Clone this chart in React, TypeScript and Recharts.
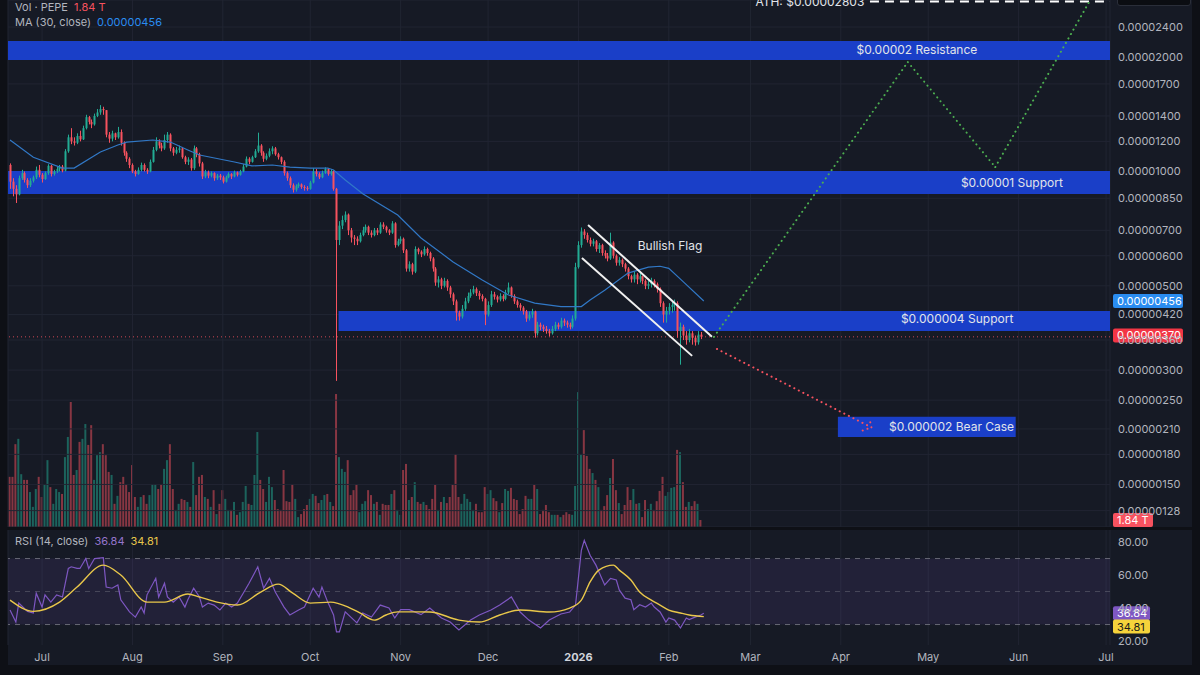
import {
  ComposedChart,
  Bar,
  Line,
  XAxis,
  YAxis,
  CartesianGrid,
  ReferenceArea,
  ReferenceLine,
  ReferenceDot,
} from 'recharts'

// ---- time axis ----
const START_DATE = '2025-06-20'
const monthDates = [
  '2025-07-01', '2025-08-01', '2025-09-01', '2025-10-01', '2025-11-01', '2025-12-01',
  '2026-01-01', '2026-02-01', '2026-03-01', '2026-04-01', '2026-05-01', '2026-06-01', '2026-07-01',
]
const monthLabels = ['Jul', 'Aug', 'Sep', 'Oct', 'Nov', 'Dec', '2026', 'Feb', 'Mar', 'Apr', 'May', 'Jun', 'Jul']

// ---- daily candles, prices in units of 0.00000001 ----
const firstOpen = 1040
const closes = [
  940, 900, 870, 960, 990, 950, 920, 945, 965, 1010,
  980, 955, 990, 1035, 985, 1000, 1015, 1030, 1005, 1130,
  1230, 1200, 1190, 1240, 1215, 1300, 1390, 1350, 1330, 1400,
  1430, 1460, 1450, 1250, 1220, 1260, 1230, 1270, 1190, 1120,
  1080, 1040, 1000, 985, 1010, 1040, 1010, 1000, 1060, 1140,
  1200, 1170, 1150, 1210, 1250, 1150, 1120, 1140, 1150, 1090,
  1060, 1075, 1020, 1150, 1110, 1050, 970, 995, 975, 990,
  960, 975, 965, 940, 965, 985, 970, 995, 980, 1000,
  1030, 1080, 1060, 1090, 1130, 1170, 1120, 1080, 1100, 1130,
  1150, 1110, 1090, 1060, 990, 960, 920, 895, 915, 925,
  910, 905, 900, 935, 1000, 985, 965, 990, 1015, 985,
  1000, 900, 660, 720, 745, 770, 700, 670, 665, 655,
  680, 700, 715, 690, 680, 700, 690, 725, 715, 700,
  690, 730, 640, 655, 665, 620, 555, 570, 545, 625,
  615, 605, 625, 610, 590, 555, 510, 520, 500, 515,
  495, 475, 455, 425, 415, 435, 455, 470, 480, 490,
  478, 470, 462, 420, 445, 475, 468, 460, 470, 462,
  480, 495, 470, 455, 445, 438, 428, 410, 420, 428,
  375, 395, 390, 385, 380, 375, 385, 395, 390, 405,
  400, 395, 390, 410, 560, 640, 695, 680, 660, 645,
  655, 625, 640, 610, 600, 590, 650, 600, 575, 585,
  570, 555, 530, 520, 535, 520, 530, 515, 500, 505,
  515, 505, 490, 450, 420, 430, 440, 445, 450, 380,
  390, 370, 360, 375, 365, 355, 372, 367,
]
const highs = [
  1050, 960, 920, 975, 1010, 1000, 960, 960, 975, 1030,
  1040, 990, 1000, 1045, 1040, 1010, 1030, 1040, 1040, 1145,
  1250, 1300, 1230, 1260, 1280, 1320, 1410, 1400, 1370, 1420,
  1460, 1495, 1480, 1450, 1270, 1280, 1265, 1310, 1290, 1200,
  1130, 1090, 1050, 1010, 1025, 1055, 1050, 1020, 1075, 1160,
  1230, 1215, 1190, 1250, 1270, 1260, 1160, 1160, 1170, 1160,
  1100, 1090, 1085, 1170, 1160, 1120, 1060, 1010, 1005, 1000,
  995, 985, 985, 975, 975, 995, 990, 1005, 1000, 1010,
  1045, 1095, 1090, 1100, 1145, 1265, 1180, 1130, 1115, 1150,
  1165, 1160, 1120, 1095, 1070, 1000, 970, 930, 925, 935,
  930, 920, 915, 945, 1020, 1015, 995, 1005, 1025, 1020,
  1015, 1005, 905, 740, 765, 785, 775, 710, 680, 675,
  690, 715, 725, 720, 700, 710, 710, 735, 735, 720,
  705, 740, 735, 665, 675, 670, 625, 580, 575, 635,
  630, 620, 635, 630, 615, 595, 560, 530, 525, 525,
  520, 500, 480, 460, 430, 445, 465, 480, 490, 500,
  495, 485, 475, 465, 455, 485, 482, 472, 478, 475,
  488, 510, 498, 475, 460, 450, 442, 432, 428, 435,
  430, 402, 400, 395, 392, 385, 392, 402, 400, 412,
  410, 405, 400, 418, 575, 655, 712, 705, 690, 670,
  665, 660, 648, 645, 620, 610, 690, 655, 605, 595,
  590, 575, 560, 535, 545, 540, 540, 532, 520, 515,
  525, 520, 510, 495, 455, 440, 450, 455, 460, 455,
  400, 395, 380, 385, 380, 370, 380, 378,
]
const lows = [
  900, 860, 826, 865, 950, 935, 905, 910, 935, 955,
  965, 935, 950, 980, 970, 975, 990, 1000, 995, 1000,
  1120, 1180, 1170, 1180, 1200, 1210, 1290, 1330, 1300, 1320,
  1390, 1410, 1410, 1230, 1190, 1200, 1210, 1220, 1170, 1100,
  1060, 1020, 990, 970, 980, 1000, 1000, 985, 995, 1055,
  1130, 1150, 1130, 1140, 1190, 1130, 1100, 1110, 1120, 1080,
  1045, 1040, 1005, 1010, 1090, 1030, 955, 960, 960, 965,
  945, 950, 950, 930, 935, 960, 955, 965, 970, 975,
  995, 1025, 1045, 1055, 1085, 1120, 1100, 1060, 1070, 1090,
  1110, 1100, 1075, 1045, 975, 945, 905, 880, 885, 905,
  900, 890, 890, 895, 930, 970, 955, 960, 985, 975,
  975, 890, 281, 640, 705, 735, 680, 650, 640, 640,
  650, 675, 690, 680, 670, 675, 680, 685, 705, 690,
  680, 685, 630, 635, 645, 610, 545, 545, 535, 540,
  605, 595, 600, 600, 580, 545, 500, 495, 490, 495,
  485, 465, 445, 405, 405, 410, 430, 450, 465, 475,
  470, 460, 455, 394, 415, 440, 460, 452, 455, 455,
  458, 475, 465, 448, 438, 430, 420, 402, 405, 412,
  365, 370, 382, 378, 374, 368, 372, 380, 384, 386,
  392, 388, 384, 386, 405, 555, 630, 665, 650, 635,
  635, 615, 610, 600, 590, 580, 585, 590, 565, 565,
  560, 545, 520, 510, 510, 505, 510, 505, 490, 490,
  495, 495, 480, 440, 400, 400, 420, 425, 430, 365,
  310, 360, 350, 355, 350, 348, 350, 362,
]
// volume in T
const volumes = [
  13.2, 13.2, 21.8, 23.2, 13.9, 12.4, 12.4, 9.2, 5.3, 10.0,
  13.2, 7.9, 11.1, 17.6, 10.5, 6.1, 10.0, 9.2, 8.7, 18.4,
  23.7, 32.9, 13.7, 15.0, 22.4, 23.2, 27.1, 21.6, 26.8, 12.4,
  18.9, 19.7, 21.8, 18.9, 14.5, 13.7, 6.1, 8.2, 11.8, 13.2,
  11.3, 9.2, 16.3, 7.9, 5.3, 7.9, 8.4, 6.1, 8.4, 11.3,
  11.3, 10.0, 11.3, 15.3, 17.6, 21.8, 10.0, 4.5, 6.1, 7.4,
  7.1, 6.6, 5.3, 17.1, 8.4, 13.2, 13.7, 7.9, 7.4, 5.3,
  9.7, 3.4, 6.1, 9.7, 7.4, 4.5, 4.5, 6.6, 3.2, 3.9,
  6.6, 10.8, 6.1, 5.8, 13.7, 25.0, 12.4, 10.0, 6.6, 13.2,
  10.5, 7.1, 4.7, 4.5, 15.0, 6.8, 6.6, 11.3, 7.4, 2.6,
  3.4, 4.7, 5.8, 7.4, 8.7, 8.2, 6.3, 7.1, 8.4, 8.7,
  6.6, 5.5, 35.0, 18.4, 15.3, 14.5, 17.6, 8.4, 9.7, 11.3,
  3.9, 6.1, 6.8, 9.7, 8.4, 6.1, 6.6, 3.2, 6.1, 5.8,
  5.8, 8.7, 9.7, 4.5, 3.2, 15.0, 16.6, 7.1, 7.9, 11.8,
  6.6, 6.1, 6.6, 5.8, 4.7, 7.4, 11.1, 4.5, 6.6, 7.9,
  6.3, 7.9, 11.1, 19.2, 7.9, 6.1, 8.7, 7.4, 6.6, 4.5,
  6.1, 3.9, 3.9, 10.5, 8.7, 9.7, 7.6, 6.8, 3.9, 6.3,
  10.0, 9.5, 10.3, 7.4, 7.1, 3.4, 4.7, 8.2, 7.4, 7.4,
  11.1, 10.0, 3.4, 4.5, 5.8, 3.9, 3.2, 3.2, 3.2, 2.6,
  3.2, 3.9, 3.4, 3.2, 10.8, 35.5, 19.2, 25.5, 18.7, 15.3,
  14.2, 12.4, 10.5, 4.5, 5.5, 8.4, 12.9, 17.9, 9.7, 6.3,
  3.4, 5.8, 10.5, 7.1, 10.0, 6.1, 6.3, 2.6, 7.1, 4.7,
  6.1, 4.5, 6.8, 9.5, 13.2, 8.2, 9.2, 10.3, 10.5, 20.3,
  19.7, 11.8, 5.3, 6.6, 5.5, 6.8, 6.1, 1.84,
]

// MA(30) readings: [day, price in 0.00000001]
const maLine: [number, number][] = [
  [0, 1210], [8, 1090], [18, 1021], [22, 1021], [31, 1125], [37, 1174], [40, 1195],
  [49, 1210], [55, 1195], [61, 1139], [65, 1105], [77, 1059], [83, 1034], [90, 1040],
  [96, 1027], [103, 1021], [109, 1021], [111, 1009], [115, 950], [121, 874], [133, 768],
  [141, 668], [152, 578], [162, 518], [171, 473], [180, 450], [189, 441], [196, 441],
  [199, 459], [204, 487], [212, 540], [219, 560], [223, 563], [226, 556], [231, 512], [238, 456],
]

// RSI(14) and its MA: [day, value]
const rsiLine: [number, number][] = [
  [0, 38.8], [2, 31.5], [3, 43], [6, 38], [8, 37], [9, 49], [11, 40.6], [12, 48], [14, 43.6],
  [16, 48], [18, 46.7], [20, 64], [21, 65], [23, 64], [24, 64], [26, 70], [27, 64], [29, 70],
  [32, 70.5], [33, 52.7], [35, 52], [37, 54], [38, 45], [41, 37.7], [43, 34.5], [45, 40.6],
  [46, 37], [47, 48], [50, 58], [51, 46.7], [53, 55], [54, 46.7], [56, 43.6], [58, 46.7],
  [60, 40.6], [61, 45], [63, 52], [65, 46.7], [66, 40.6], [68, 43], [70, 41.8], [72, 38.8],
  [74, 43], [76, 40.6], [78, 43], [80, 49], [82, 55], [85, 65], [87, 52], [89, 58], [91, 49.7],
  [94, 40.6], [96, 35.8], [99, 38.8], [101, 40.6], [104, 52], [106, 46.7], [107, 52.7],
  [109, 43.6], [111, 35.8], [112, 25.5], [113, 25.5], [115, 37.7], [118, 32.7], [119, 31],
  [121, 37], [124, 34.5], [127, 41.8], [130, 40], [132, 34], [134, 39], [137, 39], [141, 36],
  [144, 40], [148, 34], [151, 31.5], [154, 26.7], [158, 32.7], [161, 35.8], [165, 38.8],
  [168, 41.8], [172, 46.7], [175, 37.6], [178, 32.7], [182, 27.9], [185, 32.7], [189, 36.4],
  [192, 37.6], [194, 41.8], [196, 75], [197, 81], [199, 72], [201, 66], [202, 62], [204, 54],
  [206, 58], [208, 57], [209, 51], [211, 46], [213, 45], [214, 39], [216, 42], [218, 40.6],
  [220, 43], [221, 40.6], [223, 37.6], [225, 31.5], [226, 34], [228, 32.7], [230, 27.9],
  [232, 34], [233, 33], [235, 34.5], [237, 35.8], [238, 36.84],
]
const rsiMaLine: [number, number][] = [
  [0, 44.8], [8, 38], [17, 43.6], [23, 52.7], [32, 66], [38, 60], [47, 43.6], [53, 43.6],
  [61, 48.5], [65, 46.7], [71, 43.6], [78, 41.8], [86, 49.7], [92, 54.5], [97, 49], [103, 43],
  [110, 43.6], [116, 40.6], [120, 37], [125, 32.7], [129, 35.8], [133, 37.7], [144, 37.6],
  [154, 32.7], [161, 31.5], [168, 35.8], [175, 38.8], [185, 37.6], [192, 40], [196, 44.8],
  [199, 55.8], [202, 63], [207, 66], [209, 63], [213, 57], [216, 49.7], [220, 44.8],
  [223, 41.8], [226, 38.8], [230, 37], [233, 35.8], [238, 34.81],
]

// axis ticks
const priceTicks = [2400, 2000, 1700, 1400, 1200, 1000, 850, 700, 600, 500, 420, 360, 300, 250, 210, 180, 150, 128]
const rsiTicks = [20, 40, 60, 80]

// drawn levels and annotations (days, prices in 0.00000001)
const resistanceZone = [1965, 2205]
const supportZoneHigh = [872, 1003]
const supportZoneLow = [380, 429]
const supportLowFrom = 112.7
const bearZone = { days: [284, 345], prices: [200, 226] }
const athPrice = 2803
const athFrom = 295
const lastPrice = 367
const lastMa = 456
const bullPath: [number, number][] = [[241.5, 367], [308, 1941], [338, 1027], [370.5, 2820]]
const bearPath: [number, number][] = [[242.5, 341], [295.5, 212]]
const bearArrow: [number, number][] = [[292.5, 208], [295.5, 212], [294.8, 224]]
const flagUpper: [number, number][] = [[198.3, 723], [240.8, 367]]
const flagLower: [number, number][] = [[196.2, 592], [234, 327]]
const priceLabels = [
  { text: 'ATH: $0.00002803', d: 274.4, p: 2793 },
  { text: '$0.00002 Resistance', d: 311.1, p: 2085 },
  { text: '$0.00001 Support', d: 343.7, p: 935 },
  { text: '$0.000004 Support', d: 324.9, p: 409 },
  { text: '$0.000002 Bear Case', d: 323.0, p: 212 },
  { text: 'Bullish Flag', d: 226.4, p: 637 },
]

// ---- styling ----
const E8 = 1e-8
const GREEN = '#22ab94'
const RED = '#f7525f'
const VOL_UP = 'rgba(34,171,148,0.5)'
const VOL_DOWN = 'rgba(247,82,95,0.5)'
const ZONE = '#1a3fc8'
const BG = '#161a25'
const GRID = '#212532'
const AXIS_TEXT = '#b2b5be'
const X_MIN = -0.69
const X_MAX = 377.35
const P_MIN = 115.9 * E8
const P_MAX = 2827 * E8
const VOL_MAX = 138.7
const RSI_MIN = 17.6
const RSI_MAX = 87.3

const dayOf = (s: string) => Math.round((Date.parse(s) - Date.parse(START_DATE)) / 86400000)
const monthDays = monthDates.map(dayOf)

const maMap = new Map(maLine)
const rows = Array.from({ length: 239 }, (_, d) => {
  const row: Record<string, any> = { d }
  if (d < closes.length) {
    const o = d === 0 ? firstOpen : closes[d - 1]
    row.o = o * E8
    row.c = closes[d] * E8
    row.h = highs[d] * E8
    row.l = lows[d] * E8
    row.range = [row.l, row.h]
    row.vol = volumes[d]
    row.up = closes[d] >= o
  }
  const m = maMap.get(d)
  if (m !== undefined) row.ma = m * E8
  return row
})

const rsiMap = new Map(rsiLine)
const rsiMaMap = new Map(rsiMaLine)
const rsiRows = Array.from({ length: 239 }, (_, d) => ({
  d,
  rsi: rsiMap.get(d),
  rsiMa: rsiMaMap.get(d),
}))

const Candle = (p: any) => {
  const { x, y, width, height, payload } = p
  if (!payload || payload.h == null) return null
  const lh = Math.log(payload.h)
  const ll = Math.log(payload.l)
  const py = (v: number) => y + (height * (lh - Math.log(v))) / (lh - ll || 1)
  const color = payload.up ? GREEN : RED
  const cx = Math.round(x + width / 2)
  const top = py(Math.max(payload.o, payload.c))
  const bot = py(Math.min(payload.o, payload.c))
  return (
    <g>
      <line x1={cx + 0.5} x2={cx + 0.5} y1={y} y2={y + height} stroke={color} strokeWidth={1} />
      <rect x={cx - 0.5} y={top} width={2} height={Math.max(1, bot - top)} fill={color} />
    </g>
  )
}

const VolBar = (p: any) => {
  if (!p.payload || p.payload.vol == null) return null
  return <rect x={p.x} y={p.y} width={p.width} height={p.height} fill={p.payload.up ? VOL_UP : VOL_DOWN} />
}

const tag = (text: string) => (p: any) => (
  <text x={p.cx} y={p.cy} dy={4} textAnchor="middle" fontSize={12} fill="#e1e4ea">
    {text}
  </text>
)

const badge = (text: string, bg: string, fg: string, w: number, dy = 0) => (p: any) => (
  <g>
    <rect x={p.cx + 3} y={p.cy - 7 + dy} width={w} height={14} rx={2} fill={bg} />
    <text x={p.cx + 7} y={p.cy + dy} dy={4} fontSize={11} fill={fg}>
      {text}
    </text>
  </g>
)

const seg = (pts: [number, number][], scale = E8) =>
  pts.slice(1).map((pt, i) => [
    { x: pts[i][0], y: pts[i][1] * scale },
    { x: pt[0], y: pt[1] * scale },
  ])

const MonthTick = (p: any) => {
  const i = monthDays.indexOf(p.payload.value)
  const label = monthLabels[i] ?? ''
  const strong = label === '2026'
  return (
    <text
      x={p.x}
      y={p.y}
      dy={8}
      textAnchor="middle"
      fontSize={11}
      fontWeight={strong ? 700 : 400}
      fill={strong ? '#d1d4dc' : AXIS_TEXT}
    >
      {label}
    </text>
  )
}

function VolumeChart() {
  return (
    <ComposedChart width={1200} height={527} data={rows} margin={{ top: 0, right: 90, bottom: 0, left: 8 }}>
      <XAxis type="number" dataKey="d" domain={[X_MIN, X_MAX]} allowDataOverflow hide />
      <YAxis domain={[0, VOL_MAX]} allowDataOverflow hide />
      <Bar dataKey="vol" barSize={2} shape={VolBar} isAnimationActive={false} />
      <ReferenceDot x={X_MAX} y={1.84} r={0} ifOverflow="visible" shape={badge('1.84 T', RED, '#ffffff', 40)} />
    </ComposedChart>
  )
}

function PriceChart() {
  return (
    <ComposedChart width={1200} height={527} data={rows} margin={{ top: 0, right: 0, bottom: 0, left: 8 }}>
      <CartesianGrid stroke={GRID} />
      <XAxis type="number" dataKey="d" domain={[X_MIN, X_MAX]} ticks={monthDays} allowDataOverflow hide />
      <YAxis
        scale="log"
        domain={[P_MIN, P_MAX]}
        allowDataOverflow
        ticks={priceTicks.map((v) => v * E8)}
        interval={0}
        orientation="right"
        width={90}
        axisLine={false}
        tickLine={false}
        tick={{ fill: AXIS_TEXT, fontSize: 11 }}
        tickFormatter={(v: number) => v.toFixed(8)}
      />
      <ReferenceArea y1={resistanceZone[0] * E8} y2={resistanceZone[1] * E8} fill={ZONE} fillOpacity={1} stroke="none" />
      <ReferenceArea y1={supportZoneHigh[0] * E8} y2={supportZoneHigh[1] * E8} fill={ZONE} fillOpacity={1} stroke="none" />
      <ReferenceArea x1={supportLowFrom} y1={supportZoneLow[0] * E8} y2={supportZoneLow[1] * E8} fill={ZONE} fillOpacity={1} stroke="none" />
      <ReferenceArea
        x1={bearZone.days[0]}
        x2={bearZone.days[1]}
        y1={bearZone.prices[0] * E8}
        y2={bearZone.prices[1] * E8}
        fill={ZONE}
        fillOpacity={1}
        stroke="none"
      />
      <ReferenceLine y={lastPrice * E8} stroke={RED} strokeDasharray="1 3" strokeOpacity={0.8} />
      <Bar dataKey="range" barSize={3} shape={Candle} isAnimationActive={false} />
      <Line dataKey="ma" stroke="#3178c6" strokeWidth={1.2} dot={false} connectNulls isAnimationActive={false} />
      <ReferenceLine
        segment={[{ x: athFrom, y: athPrice * E8 }, { x: X_MAX, y: athPrice * E8 }]}
        stroke="#ffffff"
        strokeWidth={2}
        strokeDasharray="9 6"
        ifOverflow="visible"
      />
      {seg(flagUpper).concat(seg(flagLower)).map((s, i) => (
        <ReferenceLine key={'f' + i} segment={s} stroke="#f0f0f0" strokeWidth={2} />
      ))}
      {seg(bullPath).map((s, i) => (
        <ReferenceLine key={'b' + i} segment={s} stroke="#4caf50" strokeWidth={2} strokeDasharray="0.1 5" strokeLinecap="round" />
      ))}
      {seg(bearPath).concat(seg(bearArrow)).map((s, i) => (
        <ReferenceLine key={'r' + i} segment={s} stroke={RED} strokeWidth={2} strokeDasharray="0.1 5" strokeLinecap="round" />
      ))}
      {priceLabels.map((l) => (
        <ReferenceDot key={l.text} x={l.d} y={l.p * E8} r={0} ifOverflow="visible" shape={tag(l.text)} />
      ))}
      <ReferenceDot x={X_MAX} y={lastMa * E8} r={0} ifOverflow="visible" shape={badge('0.00000456', '#2a8cf0', '#ffffff', 70)} />
      <ReferenceDot x={X_MAX} y={370 * E8} r={0} ifOverflow="visible" shape={badge('0.00000370', '#f23645', '#ffffff', 70)} />
    </ComposedChart>
  )
}

function RsiChart() {
  return (
    <ComposedChart width={1200} height={145} data={rsiRows} margin={{ top: 0, right: 0, bottom: 0, left: 8 }}>
      <CartesianGrid stroke={GRID} horizontal={false} />
      <XAxis
        type="number"
        dataKey="d"
        domain={[X_MIN, X_MAX]}
        ticks={monthDays}
        interval={0}
        allowDataOverflow
        height={30}
        axisLine={false}
        tickLine={false}
        tick={MonthTick}
      />
      <YAxis
        domain={[RSI_MIN, RSI_MAX]}
        allowDataOverflow
        ticks={rsiTicks}
        interval={0}
        orientation="right"
        width={90}
        axisLine={false}
        tickLine={false}
        tick={{ fill: AXIS_TEXT, fontSize: 11 }}
        tickFormatter={(v: number) => v.toFixed(2)}
      />
      <ReferenceArea y1={30} y2={70} fill="#7e57c2" fillOpacity={0.12} stroke="none" />
      <ReferenceLine y={70} stroke="#787b86" strokeDasharray="5 5" strokeOpacity={0.8} />
      <ReferenceLine y={50} stroke="#787b86" strokeDasharray="5 5" strokeOpacity={0.45} />
      <ReferenceLine y={30} stroke="#787b86" strokeDasharray="5 5" strokeOpacity={0.8} />
      <Line dataKey="rsi" stroke="#7e57c2" strokeWidth={1.2} dot={false} connectNulls isAnimationActive={false} />
      <Line dataKey="rsiMa" type="monotone" stroke="#e9c74a" strokeWidth={1.4} dot={false} connectNulls isAnimationActive={false} />
      <ReferenceDot x={X_MAX} y={36.84} r={0} ifOverflow="visible" shape={badge('36.84', '#7e57c2', '#ffffff', 37)} />
      <ReferenceDot x={X_MAX} y={34.81} r={0} ifOverflow="visible" shape={badge('34.81', '#f5d33b', '#1a1a1a', 37, 10)} />
    </ComposedChart>
  )
}

const legendRow = { position: 'absolute' as const, left: 15, fontSize: 11, color: AXIS_TEXT, whiteSpace: 'nowrap' as const }

export default function App() {
  return (
    <div
      style={{
        position: 'absolute',
        left: 0,
        top: 0,
        width: 1200,
        height: 675,
        background: '#0e1016',
        overflow: 'hidden',
        fontFamily: 'Inter, "Noto Sans", sans-serif',
      }}
    >
      <div style={{ position: 'absolute', left: 8, top: 0, width: 1184, height: 665, background: BG }} />
      <div style={{ position: 'absolute', left: 0, top: 0 }}>
        <VolumeChart />
      </div>
      <div style={{ position: 'absolute', left: 0, top: 0 }}>
        <PriceChart />
      </div>
      <div style={{ position: 'absolute', left: 8, top: 527, width: 1184, height: 3, background: '#0e1016' }} />
      <div style={{ position: 'absolute', left: 0, top: 530 }}>
        <RsiChart />
      </div>
      <div
        style={{
          position: 'absolute',
          left: 1117,
          top: -9,
          width: 72,
          height: 13,
          background: '#0b0d12',
          border: '1px solid #2a2e39',
          borderRadius: 3,
        }}
      />
      <div style={{ ...legendRow, top: 0 }}>
        Vol · PEPE <span style={{ color: RED, marginLeft: 3 }}>1.84 T</span>
      </div>
      <div style={{ ...legendRow, top: 15 }}>
        MA (30, close) <span style={{ color: '#2a8cf0', marginLeft: 3 }}>0.00000456</span>
      </div>
      <div style={{ ...legendRow, top: 534 }}>
        RSI (14, close) <span style={{ color: '#9575cd', marginLeft: 3 }}>36.84</span>
        <span style={{ color: '#e9c74a', marginLeft: 6 }}>34.81</span>
      </div>
    </div>
  )
}
